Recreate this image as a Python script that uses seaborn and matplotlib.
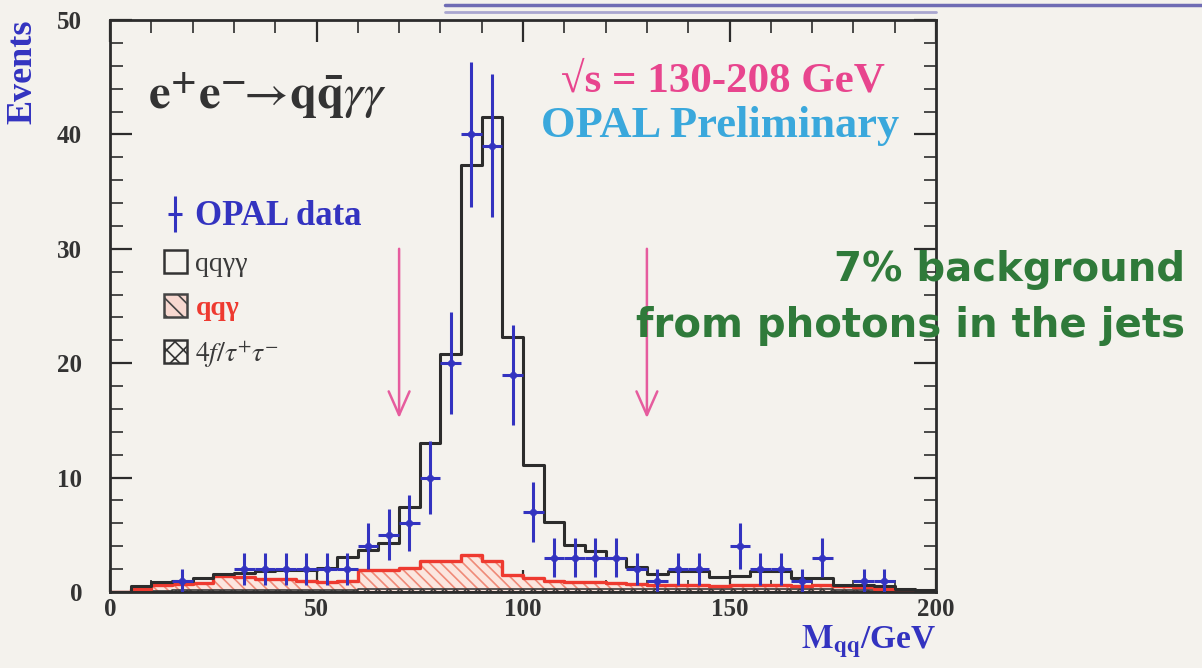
import numpy as np
import pandas as pd
import matplotlib
matplotlib.use("Agg")
import matplotlib.pyplot as plt
import seaborn as sns
from matplotlib.patches import Patch
from matplotlib.lines import Line2D
from matplotlib.ticker import MultipleLocator
from matplotlib.legend_handler import HandlerTuple

# ---------------- data ----------------
bin_edges = [0, 5, 10, 15, 20, 25, 30, 35, 40, 45, 50, 55, 60, 65, 70, 75, 80, 85, 90, 95,
             100, 105, 110, 115, 120, 125, 130, 135, 140, 145, 150, 155, 160, 165, 170, 175,
             180, 185, 190, 195, 200]
bin_centers = [2.5, 7.5, 12.5, 17.5, 22.5, 27.5, 32.5, 37.5, 42.5, 47.5, 52.5, 57.5, 62.5,
               67.5, 72.5, 77.5, 82.5, 87.5, 92.5, 97.5, 102.5, 107.5, 112.5, 117.5, 122.5,
               127.5, 132.5, 137.5, 142.5, 147.5, 152.5, 157.5, 162.5, 167.5, 172.5, 177.5,
               182.5, 187.5, 192.5, 197.5]

# total MC: q q gamma gamma (black open histogram)
mc_qqgg = [0.0, 0.5, 0.9, 1.0, 1.2, 1.6, 1.7, 1.8, 1.9, 1.9, 2.1, 3.1, 3.7, 4.3, 7.4, 13.0,
           20.8, 37.3, 41.5, 22.3, 11.1, 6.1, 4.1, 3.6, 3.0, 2.2, 1.6, 1.8, 1.8, 1.3, 1.4,
           1.8, 1.8, 1.2, 1.2, 0.6, 0.6, 0.5, 0.3, 0.2]
# q q gamma background (red hatched)
mc_qqg = [0.0, 0.3, 0.6, 0.7, 0.8, 1.4, 1.3, 1.1, 1.1, 1.0, 0.9, 1.0, 1.9, 1.9, 2.1, 2.75,
          2.75, 3.2, 2.75, 1.5, 1.25, 1.0, 0.9, 0.9, 0.8, 0.7, 0.6, 0.6, 0.6, 0.5, 0.6, 0.6,
          0.6, 0.5, 0.6, 0.5, 0.4, 0.3, 0.2, 0.1]
# 4f / tau tau background (dark cross-hatched)
mc_4f = [0.0, 0.1, 0.1, 0.15, 0.15, 0.2, 0.2, 0.2, 0.2, 0.2, 0.2, 0.2, 0.25, 0.25, 0.25, 0.3,
         0.3, 0.3, 0.3, 0.25, 0.25, 0.25, 0.25, 0.25, 0.25, 0.25, 0.25, 0.25, 0.25, 0.25,
         0.25, 0.25, 0.25, 0.25, 0.25, 0.2, 0.2, 0.15, 0.1, 0.05]

# OPAL data points (bin centre, events, error)
data_x = [17.5, 32.5, 37.5, 42.5, 47.5, 52.5, 57.5, 62.5, 67.5, 72.5, 77.5, 82.5, 87.5, 92.5,
          97.5, 102.5, 107.5, 112.5, 117.5, 122.5, 127.5, 132.5, 137.5, 142.5, 152.5, 157.5,
          162.5, 167.5, 172.5, 182.5, 187.5]
data_n = [1, 2, 2, 2, 2, 2, 2, 4, 5, 6, 10, 20, 40, 39, 19, 7, 3, 3, 3, 3, 2, 1, 2, 2, 4, 2,
          2, 1, 3, 1, 1]
data_err = [1.0, 1.41, 1.41, 1.41, 1.41, 1.41, 1.41, 2.0, 2.24, 2.45, 3.16, 4.47, 6.32, 6.24,
            4.36, 2.65, 1.73, 1.73, 1.73, 1.73, 1.41, 1.0, 1.41, 1.41, 2.0, 1.41, 1.41, 1.0,
            1.73, 1.0, 1.0]
bin_half_width = 2.5

cut_positions = [70, 130]
cut_arrow_top = 30
cut_arrow_tip = 15.2

# ---------------- style ----------------
BG = "#f4f2ed"
BLUE = "#3333c0"
RED = "#ee3a30"
PINK = "#e8458e"
CYAN = "#3aa8dc"
GREEN = "#2f7a3a"
DARK = "#2c2c2c"

sns.set_style("ticks")
plt.rcParams["font.family"] = ["Liberation Serif", "DejaVu Serif"]
plt.rcParams["mathtext.fontset"] = "stix"
plt.rcParams["hatch.linewidth"] = 1.2

fig = plt.figure(figsize=(12.02, 6.68), dpi=100, facecolor=BG)
ax = fig.add_axes([110 / 1202, 1 - 592 / 668, 826 / 1202, 572 / 668])
ax.set_facecolor(BG)

df = pd.DataFrame({"centre": bin_centers, "qqgg": mc_qqgg, "qqg": mc_qqg, "fourf": mc_4f})

# red hatched q q gamma
sns.histplot(data=df, x="centre", weights="qqg", bins=bin_edges, element="step", fill=True,
             color="#f2907f", facecolor="#fbe6df", edgecolor="#ef8a78", hatch="\\\\\\",
             linewidth=0, ax=ax)
sns.histplot(data=df, x="centre", weights="qqg", bins=bin_edges, element="step", fill=False,
             color=RED, linewidth=2.4, ax=ax)
# 4f background
sns.histplot(data=df, x="centre", weights="fourf", bins=bin_edges, element="step", fill=True,
             color="#3a3a3a", facecolor=(0, 0, 0, 0), edgecolor="#3a3a3a", hatch="xxx",
             linewidth=1.2, ax=ax)
# total
sns.histplot(data=df, x="centre", weights="qqgg", bins=bin_edges, element="step", fill=False,
             color=DARK, linewidth=2.2, ax=ax)

# data
ax.errorbar(data_x, data_n, yerr=data_err, xerr=bin_half_width, fmt="none", ecolor=BLUE,
            elinewidth=2.2, capsize=0, zorder=6)
sns.scatterplot(x=data_x, y=data_n, color=BLUE, marker="D", s=22, edgecolor=BLUE, ax=ax,
                zorder=7)

# cut arrows
for xc in cut_positions:
    ax.annotate("", xy=(xc, cut_arrow_tip), xytext=(xc, cut_arrow_top),
                arrowprops=dict(arrowstyle="->,head_length=1.7,head_width=0.75",
                                color="#e65c9e", lw=1.8, shrinkA=0, shrinkB=0))

ax.set_xlim(0, 200)
ax.set_ylim(0, 50)

# axes styling
for sp in ax.spines.values():
    sp.set_visible(True)
    sp.set_color(DARK)
    sp.set_linewidth(2)
ax.xaxis.set_major_locator(MultipleLocator(50))
ax.xaxis.set_minor_locator(MultipleLocator(10))
ax.yaxis.set_major_locator(MultipleLocator(10))
ax.yaxis.set_minor_locator(MultipleLocator(2))
ax.tick_params(which="both", direction="in", top=True, right=True, color=DARK)
ax.tick_params(which="major", length=16, width=1.6)
ax.tick_params(which="minor", length=9, width=1.2)
ax.tick_params(axis="x", which="major", pad=4, labelsize=18, labelcolor="#333333")
ax.tick_params(axis="y", which="major", pad=20, labelsize=18, labelcolor="#333333")
for lab in ax.get_xticklabels() + ax.get_yticklabels():
    lab.set_fontweight("bold")

ax.set_xlabel(r"$\mathbf{M_{qq}}$/GeV", loc="right", color=BLUE, fontsize=24,
              fontweight="bold", labelpad=2)
ax.set_ylabel("Events", loc="top", color=BLUE, fontsize=26, fontweight="bold")
ax.yaxis.set_label_coords(-0.086, 1.0)

# texts inside the plot
ax.text(0.046, 0.868, r"$\mathbf{e^{+}e^{-}}\!\!\rightarrow\!\mathbf{q\bar{q}}\gamma\gamma$",
        transform=ax.transAxes, fontsize=35, color="#333333", va="center", ha="left")
ax.text(0.742, 0.892, "√s = 130-208 GeV", transform=ax.transAxes, fontsize=31,
        fontweight="bold", color=PINK, ha="center", va="center")
ax.text(0.739, 0.814, "OPAL Preliminary", transform=ax.transAxes, fontsize=32,
        fontweight="bold", color=CYAN, ha="center", va="center")

# legend
h_data = (Line2D([], [], color=BLUE, marker="|", markersize=26, markeredgewidth=2.2,
                 linestyle="none"),
          Line2D([], [], color=BLUE, marker="_", markersize=10, markeredgewidth=2.2,
                 linestyle="none"))
h_tot = Patch(facecolor="none", edgecolor="#333333", linewidth=1.8)
h_qqg = Patch(facecolor="#f7d8d0", edgecolor="#444444", hatch="\\\\", linewidth=1.8)
h_4f = Patch(facecolor="none", edgecolor="#333333", hatch="xx", linewidth=1.8)
leg = ax.legend([h_data, h_tot, h_qqg, h_4f],
                ["OPAL data", "qqγγ", "qqγ", r"$4f/\tau^{+}\tau^{-}$"],
                handler_map={tuple: HandlerTuple(ndivide=1, pad=0)},
                loc="upper left", bbox_to_anchor=(0.048, 0.71), frameon=False,
                handlelength=0.85, handleheight=0.9, handletextpad=0.3, labelspacing=0.62,
                borderpad=0, fontsize=20)
txts = leg.get_texts()
txts[0].set_color(BLUE); txts[0].set_fontweight("bold"); txts[0].set_fontsize(25)
txts[1].set_color("#3a3a3a")
txts[2].set_color(RED); txts[2].set_fontweight("bold")
txts[3].set_color("#3a3a3a")

# annotation to the right of the plot
fig.text(0.986, 1 - 270 / 668, "7% background", ha="right", va="center", fontsize=29,
         fontweight="bold", color=GREEN, family=["DejaVu Sans"])
fig.text(0.986, 1 - 326 / 668, "from photons in the jets", ha="right", va="center",
         fontsize=29, fontweight="bold", color=GREEN, family=["DejaVu Sans"])

# slide header rule at the top
fig.add_artist(Line2D([445 / 1202, 1.0], [1 - 5 / 668, 1 - 5 / 668], color="#6f6cb4",
                      lw=2.5, transform=fig.transFigure))
fig.add_artist(Line2D([445 / 1202, 936 / 1202], [1 - 12 / 668, 1 - 12 / 668],
                      color="#a9a6cf", lw=2, transform=fig.transFigure))

fig.savefig("out.png", dpi=100, facecolor=BG)
